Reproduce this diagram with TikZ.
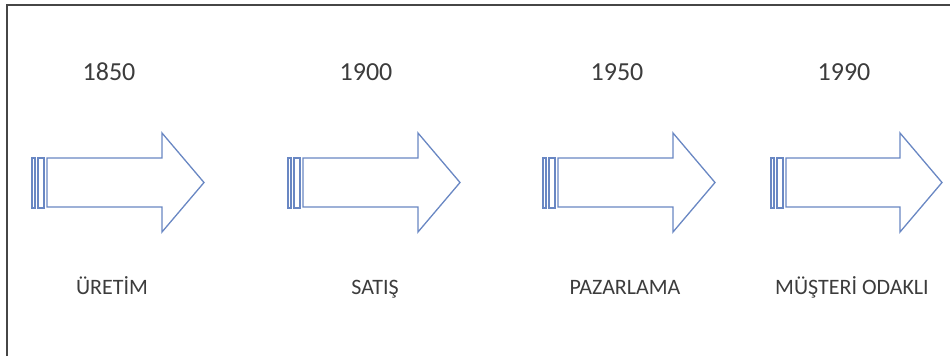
\documentclass[tikz,border=0pt]{standalone}
\usepackage{fontspec}
\setmainfont{Carlito}
\usetikzlibrary{positioning}
\definecolor{arrowblue}{RGB}{105,135,195}
\definecolor{textgray}{RGB}{60,60,60}
\definecolor{framegray}{RGB}{70,70,70}

\begin{document}
\begin{tikzpicture}[x=1pt, y=-1pt,
    arrowline/.style={draw=arrowblue, line width=1.3pt, line join=miter, fill=white},
    year/.style={anchor=base, inner sep=0pt, text=textgray, font=\fontsize{26}{30}\selectfont},
    stage/.style={anchor=base, inner sep=0pt, text=textgray, font=\fontsize{22}{26}\selectfont}]
                \useasboundingbox (0,0) rectangle (950,356);

                % Frame
                \draw[framegray, line width=1.5pt] (7,356) -- (7,5) -- (950,5);

                % Years
                \node[year] (y1850) at (109, 80) {1850};
                \node[year] (y1900) at (366, 80) {1900};
                \node[year] (y1950) at (617, 80) {1950};
                \node[year] (y1990) at (844, 80) {1990};

                % Stages
                \node[stage] (uretim)    at (112, 294) {ÜRETİM};
                \node[stage] (satis)     at (375, 294) {SATIŞ};
                \node[stage] (pazarlama) at (625, 294) {PAZARLAMA};
                \node[stage] (musteri)   at (852, 294) {MÜŞTERİ ODAKLI};

                % Arrow 1
                \draw[arrowline] (32,158) rectangle ++(3,50) (38,158) rectangle ++(6,50);
                \draw[arrowline] (47,158) -- ++(115,0) -- ++(0,-25) -- ++(42,49.5) -- ++(-42,49.5) -- ++(0,-25) -- ++(-115,0) -- cycle;

                % Arrow 2
                \draw[arrowline] (288,158) rectangle ++(3,50) (294,158) rectangle ++(6,50);
                \draw[arrowline] (303,158) -- ++(115,0) -- ++(0,-25) -- ++(42,49.5) -- ++(-42,49.5) -- ++(0,-25) -- ++(-115,0) -- cycle;

                % Arrow 3
                \draw[arrowline] (543,158) rectangle ++(3,50) (549,158) rectangle ++(6,50);
                \draw[arrowline] (558,158) -- ++(115,0) -- ++(0,-25) -- ++(42,49.5) -- ++(-42,49.5) -- ++(0,-25) -- ++(-115,0) -- cycle;

                % Arrow 4
                \draw[arrowline] (771,158) rectangle ++(3,50) (777,158) rectangle ++(6,50);
                \draw[arrowline] (786,158) -- ++(114,0) -- ++(0,-25) -- ++(42,49.5) -- ++(-42,49.5) -- ++(0,-25) -- ++(-114,0) -- cycle;
\end{tikzpicture}
\end{document}
